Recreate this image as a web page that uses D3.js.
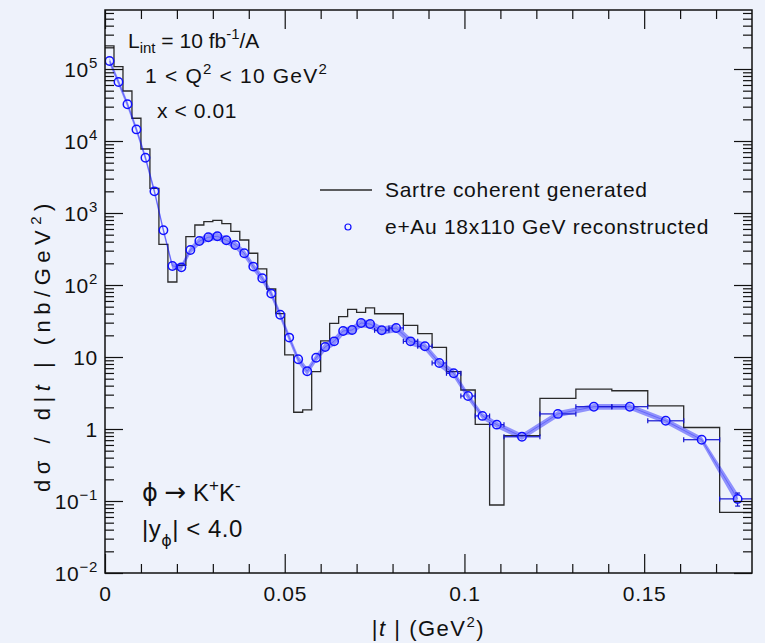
<!DOCTYPE html>
<html>
<head>
<meta charset="utf-8">
<script src="https://cdn.jsdelivr.net/npm/d3@7"></script>
<style>
  html, body { margin: 0; padding: 0; background: #eef2fb; }
  svg { display: block; font-family: "Liberation Sans", Arial, Helvetica, sans-serif; }
</style>
</head>
<body>
<svg id="chart" width="765" height="643"></svg>
<script>
// |t| bin edges (GeV^2): 0.0025 wide up to 0.075, then 0.004, then 0.01
const binEdges = [
  0, 0.0025, 0.005, 0.0075, 0.01, 0.0125, 0.015, 0.0175, 0.02, 0.0225,
  0.025, 0.0275, 0.03, 0.0325, 0.035, 0.0375, 0.04, 0.0425, 0.045, 0.0475,
  0.05, 0.0525, 0.055, 0.0575, 0.06, 0.0625, 0.065, 0.0675, 0.07, 0.0725, 0.075,
  0.079, 0.083, 0.087, 0.091, 0.095, 0.099, 0.103, 0.107, 0.111,
  0.121, 0.131, 0.141, 0.151, 0.161, 0.171, 0.181
];

// Sartre coherent generated, dsigma/d|t| (nb/GeV^2) per bin
const generated = [
  2.09e5, 1.08e5, 4.95e4, 2.07e4, 7.74e3, 2.2e3, 367, 110, 188, 469,
  681, 758, 791, 711, 556, 422, 276, 167, 88, 40,
  10.7, 1.71, 1.84, 6.25, 16.7, 29.4, 36.3, 45.9, 41.8, 48,
  39.9, 39.9, 27.5, 21.1, 13.6, 6.25, 3.48, 1.16, 0.088,
  0.807, 2.67, 3.59, 3.40, 2.09, 1.05, 0.0697
];

// e+Au 18x110 GeV reconstructed, per bin
const reconstructed = [
  1.29e5, 6.6e4, 3.24e4, 1.45e4, 5.86e3, 2.0e3, 575, 184, 176, 306,
  408, 460, 475, 418, 359, 276, 180, 124, 76, 38.7,
  18.6, 9.29, 6.33, 9.78, 13.8, 16.5, 23.0, 23.7, 29.7, 28.7,
  23.5, 25.3, 16.5, 14.1, 8.26, 5.94, 2.87, 1.52, 1.15,
  0.78, 1.62, 2.04, 2.04, 1.30, 0.71, 0.107
];

// relative uncertainty band on the reconstructed points
const recoBandErr = [
  0.10, 0.10, 0.10, 0.10, 0.10, 0.10, 0.10, 0.10, 0.10, 0.11,
  0.12, 0.12, 0.12, 0.12, 0.12, 0.12, 0.12, 0.12, 0.12, 0.12,
  0.12, 0.12, 0.12, 0.12, 0.13, 0.13, 0.13, 0.13, 0.13, 0.13,
  0.13, 0.13, 0.12, 0.12, 0.12, 0.12, 0.11, 0.10, 0.10,
  0.10, 0.10, 0.09, 0.09, 0.09, 0.10, 0.20
];

// statistical error on the reconstructed points (absolute)
const recoStatErr = [
  0, 0, 0, 0, 0, 0, 0, 0, 0, 0,
  0, 0, 0, 0, 0, 0, 0, 0, 0, 0,
  0, 0, 0, 0, 0, 0, 0, 0, 0, 0,
  0, 0, 0, 0, 0, 0, 0, 0, 0,
  0, 0, 0, 0, 0, 0, 0.022
];

const xMajorTicks = [0, 0.05, 0.1, 0.15];
const xTickLabels = ["0", "0.05", "0.1", "0.15"];
const xMinorTicks = [0.01, 0.02, 0.03, 0.04, 0.06, 0.07, 0.08, 0.09, 0.11, 0.12, 0.13, 0.14, 0.16, 0.17];
const yMajorTicks = [1e-2, 1e-1, 1, 10, 1e2, 1e3, 1e4, 1e5];
const yTickLabels = [["10", "\u22122"], ["10", "\u22121"], ["1", ""], ["10", ""], ["10", "2"], ["10", "3"], ["10", "4"], ["10", "5"]];

(function draw() {
  const W = 765, H = 643;
  const pLeft = 105, pRight = 752, pTop = 10, pBottom = 573;
  const ink = "#111";
  const fontFam = "'Liberation Sans', Arial, Helvetica, sans-serif";

  const svg = d3.select("#chart");
  svg.append("rect").attr("width", W).attr("height", H).attr("fill", "#eef2fb");

  const x = d3.scaleLinear().domain([0, 0.18]).range([pLeft, pRight]);
  const y = d3.scaleLog().domain([0.01, 6.6e5]).range([pBottom, pTop]);

  // minor log ticks 2..9 x 10^n inside the y range
  const yMinorTicks = [];
  for (let e = -2; e <= 5; e++) {
    for (let m = 2; m <= 9; m++) {
      const v = m * Math.pow(10, e);
      if (v < 6.6e5) yMinorTicks.push(v);
    }
  }

  svg.append("clipPath").attr("id", "plotclip")
    .append("rect").attr("x", pLeft).attr("y", pTop)
    .attr("width", pRight - pLeft).attr("height", pBottom - pTop);

  const plot = svg.append("g").attr("clip-path", "url(#plotclip)");

  // generated histogram as steps
  const bins = generated.map((v, i) => ({ x0: binEdges[i], x1: binEdges[i + 1], v }));
  const stepPts = [];
  bins.forEach(b => { stepPts.push([b.x0, b.v]); stepPts.push([b.x1, b.v]); });
  plot.append("path")
    .attr("d", d3.line().x(d => x(d[0])).y(d => y(d[1]))(stepPts))
    .attr("fill", "none").attr("stroke", "#2a2a2a").attr("stroke-width", 1.3);

  // reconstructed points
  const pts = reconstructed.map((v, i) => ({
    x: (binEdges[i] + binEdges[i + 1]) / 2,
    x0: binEdges[i], x1: binEdges[i + 1],
    v, e: recoBandErr[i], s: recoStatErr[i]
  }));

  plot.append("path")
    .attr("d", d3.area().x(d => x(d.x)).y0(d => y(d.v * (1 - d.e))).y1(d => y(d.v * (1 + d.e)))(pts))
    .attr("fill", "rgba(0,0,255,0.4)").attr("stroke", "none");
  plot.append("path")
    .attr("d", d3.line().x(d => x(d.x)).y(d => y(d.v))(pts))
    .attr("fill", "none").attr("stroke", "rgba(0,0,255,0.3)").attr("stroke-width", 1);

  const r = 4.2;
  const errCol = "#1414d2";
  const eb = plot.append("g").attr("stroke", errCol).attr("stroke-width", 1.2);
  pts.forEach(d => {
    const cx = x(d.x), cy = y(d.v);
    const xl = x(d.x0), xr = Math.min(x(d.x1), pRight);
    if (cx - xl > r + 1) {
      eb.append("line").attr("x1", xl).attr("x2", cx - r).attr("y1", cy).attr("y2", cy);
      eb.append("line").attr("x1", xl).attr("x2", xl).attr("y1", cy - 2.5).attr("y2", cy + 2.5);
    }
    if (xr - cx > r + 1) {
      eb.append("line").attr("x1", cx + r).attr("x2", xr).attr("y1", cy).attr("y2", cy);
      if (x(d.x1) <= pRight) eb.append("line").attr("x1", xr).attr("x2", xr).attr("y1", cy - 2.5).attr("y2", cy + 2.5);
    }
    if (d.s > 0) {
      const yl = y(d.v - d.s), yh = y(d.v + d.s);
      if (yl - cy > r + 1) {
        eb.append("line").attr("x1", cx).attr("x2", cx).attr("y1", cy + r).attr("y2", yl);
        eb.append("line").attr("x1", cx - 2.5).attr("x2", cx + 2.5).attr("y1", yl).attr("y2", yl);
      }
      if (cy - yh > r + 1) {
        eb.append("line").attr("x1", cx).attr("x2", cx).attr("y1", cy - r).attr("y2", yh);
        eb.append("line").attr("x1", cx - 2.5).attr("x2", cx + 2.5).attr("y1", yh).attr("y2", yh);
      }
    }
  });

  plot.append("g").selectAll("circle").data(pts).join("circle")
    .attr("cx", d => x(d.x)).attr("cy", d => y(d.v)).attr("r", r)
    .attr("fill", "none").attr("stroke", "#1010ff").attr("stroke-width", 1.5);

  // axes: inward ticks on all four sides
  function styleAxis(g) {
    g.select(".domain").remove();
    g.selectAll(".tick line").attr("stroke", ink).attr("stroke-width", 1.2);
    g.selectAll("text").attr("fill", ink).attr("font-size", 21)
      .attr("letter-spacing", 0.7).attr("font-family", fontFam);
  }

  svg.append("g").attr("transform", `translate(0,${pBottom})`)
    .call(d3.axisBottom(x).tickValues(xMajorTicks).tickSize(-19).tickPadding(13)
      .tickFormat((d, i) => xTickLabels[i]))
    .call(styleAxis);
  svg.append("g").attr("transform", `translate(0,${pBottom})`)
    .call(d3.axisBottom(x).tickValues(xMinorTicks).tickSize(-9).tickFormat(""))
    .call(styleAxis);
  svg.append("g").attr("transform", `translate(0,${pTop})`)
    .call(d3.axisTop(x).tickValues(xMajorTicks).tickSize(-19).tickFormat(""))
    .call(styleAxis);
  svg.append("g").attr("transform", `translate(0,${pTop})`)
    .call(d3.axisTop(x).tickValues(xMinorTicks).tickSize(-9).tickFormat(""))
    .call(styleAxis);

  const yAxisG = svg.append("g").attr("transform", `translate(${pLeft},0)`)
    .call(d3.axisLeft(y).tickValues(yMajorTicks).tickSize(-18).tickPadding(8).tickFormat(() => ""))
    .call(styleAxis);
  svg.append("g").attr("transform", `translate(${pLeft},0)`)
    .call(d3.axisLeft(y).tickValues(yMinorTicks).tickSize(-9).tickFormat(""))
    .call(styleAxis);
  svg.append("g").attr("transform", `translate(${pRight},0)`)
    .call(d3.axisRight(y).tickValues(yMajorTicks).tickSize(-18).tickFormat(""))
    .call(styleAxis);
  svg.append("g").attr("transform", `translate(${pRight},0)`)
    .call(d3.axisRight(y).tickValues(yMinorTicks).tickSize(-9).tickFormat(""))
    .call(styleAxis);

  // y tick labels with superscript exponents
  yAxisG.selectAll(".tick").each(function (d, i) {
    const t = d3.select(this).select("text").text(null)
      .attr("x", -7).attr("dy", "0.36em").attr("text-anchor", "end");
    const lab = yTickLabels[i];
    t.append("tspan").text(lab[0]);
    if (lab[1]) t.append("tspan").attr("font-size", 15).attr("dy", "-0.6em").text(lab[1]);
  });

  // frame
  svg.append("rect").attr("x", pLeft).attr("y", pTop)
    .attr("width", pRight - pLeft).attr("height", pBottom - pTop)
    .attr("fill", "none").attr("stroke", ink).attr("stroke-width", 1.5);

  // axis titles
  const xt = svg.append("text").attr("x", (pLeft + pRight) / 2).attr("y", 636)
    .attr("text-anchor", "middle").attr("font-size", 22).attr("letter-spacing", 1.5).attr("fill", ink);
  xt.append("tspan").text("|");
  xt.append("tspan").attr("font-style", "italic").text("t");
  xt.append("tspan").text(" | (GeV");
  xt.append("tspan").attr("font-size", 15).attr("dy", -9).text("2");
  xt.append("tspan").attr("dy", 9).text(")");

  const yt = svg.append("text").attr("transform", "translate(50,345) rotate(-90)")
    .attr("text-anchor", "middle").attr("font-size", 22).attr("letter-spacing", 5.5).attr("fill", ink);
  yt.append("tspan").text("d\u03c3 / d|");
  yt.append("tspan").attr("font-style", "italic").text("t");
  yt.append("tspan").text(" |  (nb/GeV");
  yt.append("tspan").attr("font-size", 15).attr("dy", -9).text("2");
  yt.append("tspan").attr("dy", 9).text(")");

  // annotations
  const a1 = svg.append("text").attr("x", 128).attr("y", 48).attr("font-size", 21)
    .attr("letter-spacing", 0).attr("fill", ink);
  a1.append("tspan").text("L");
  a1.append("tspan").attr("font-size", 15).attr("dy", 5).text("int");
  a1.append("tspan").attr("dy", -5).text(" = 10 fb");
  a1.append("tspan").attr("font-size", 15).attr("dy", -9).text("-1");
  a1.append("tspan").attr("dy", 9).text("/A");

  const a2 = svg.append("text").attr("x", 145).attr("y", 83).attr("font-size", 21)
    .attr("letter-spacing", 1.2).attr("fill", ink);
  a2.append("tspan").text("1 < Q");
  a2.append("tspan").attr("font-size", 15).attr("dy", -9).text("2");
  a2.append("tspan").attr("dy", 9).text(" < 10 GeV");
  a2.append("tspan").attr("font-size", 15).attr("dy", -9).text("2");

  svg.append("text").attr("x", 157).attr("y", 118).attr("font-size", 21)
    .attr("letter-spacing", 0.6).attr("fill", ink).text("x < 0.01");

  const a4 = svg.append("text").attr("x", 142).attr("y", 501).attr("font-size", 24).attr("fill", ink);
  a4.append("tspan").attr("font-family", "'DejaVu Sans', sans-serif").text("\u03d5");
  a4.append("tspan").text(" ");
  a4.append("tspan").attr("font-family", "'DejaVu Sans', sans-serif").attr("font-size", 26).text("\u2192");
  a4.append("tspan").text(" K");
  a4.append("tspan").attr("font-size", 17).attr("dy", -10).text("+");
  a4.append("tspan").attr("dy", 10).text("K");
  a4.append("tspan").attr("font-size", 17).attr("dy", -10).text("-");

  const a5 = svg.append("text").attr("x", 142).attr("y", 537).attr("font-size", 24)
    .attr("letter-spacing", 0.5).attr("fill", ink);
  a5.append("tspan").text("|y");
  a5.append("tspan").attr("font-family", "'DejaVu Sans', sans-serif").attr("font-size", 16).attr("dy", 9).text("\u03d5");
  a5.append("tspan").attr("dy", -9).text("| < 4.0");

  // legend
  const lg = svg.append("g");
  lg.append("line").attr("x1", 320).attr("x2", 372).attr("y1", 190).attr("y2", 190)
    .attr("stroke", "#2a2a2a").attr("stroke-width", 1.3);
  lg.append("text").attr("x", 385).attr("y", 197).attr("font-size", 21)
    .attr("letter-spacing", 0.7).attr("fill", ink).text("Sartre coherent generated");
  lg.append("circle").attr("cx", 348).attr("cy", 227).attr("r", 3)
    .attr("fill", "none").attr("stroke", "#1010ff").attr("stroke-width", 1.2);
  lg.append("text").attr("x", 385).attr("y", 234).attr("font-size", 21)
    .attr("letter-spacing", 0.7).attr("fill", ink).text("e+Au 18x110 GeV reconstructed");
})();
</script>
</body>
</html>
